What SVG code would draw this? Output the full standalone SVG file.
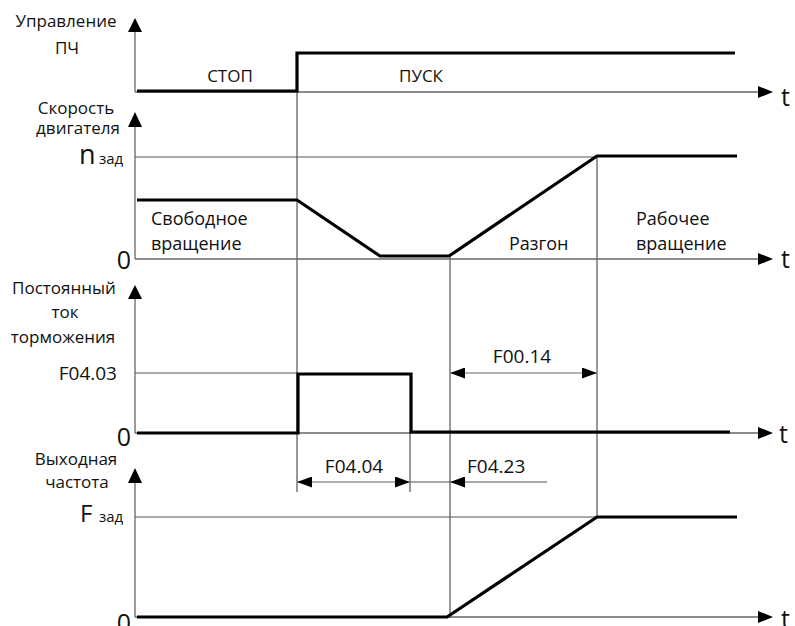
<svg xmlns="http://www.w3.org/2000/svg" width="795" height="626" viewBox="0 0 795 626">
<defs>
<style>
text{font-family:"Open Sans","Liberation Sans",sans-serif;fill:#111}
.lab{font-size:17px;text-anchor:middle}
.reg{font-size:18px}
.big{font-size:25px}
.dim{font-size:19px}
.ax{stroke:#666;stroke-width:1.3;fill:none}
.ref{stroke:#555;stroke-width:1.2;fill:none}
.dl{stroke:#999;stroke-width:1.5;fill:none}
.sig{stroke:#000;stroke-width:3.2;fill:none;stroke-linejoin:miter}
.ah{fill:#000}
</style>
<marker id="arrL" markerWidth="15" markerHeight="11" refX="0" refY="5.5" orient="auto" markerUnits="userSpaceOnUse"><path d="M0,5.5 L15,0 L15,11 Z" fill="#000"/></marker>
<marker id="arrR" markerWidth="15" markerHeight="11" refX="15" refY="5.5" orient="auto" markerUnits="userSpaceOnUse"><path d="M15,5.5 L0,0 L0,11 Z" fill="#000"/></marker>
</defs>
<rect width="795" height="626" fill="#fff"/>

<g id="connectors">
<line class="ref" x1="297" y1="53" x2="297" y2="492"/>
<line class="ref" x1="410" y1="432" x2="410" y2="492"/>
<line class="ref" x1="450" y1="256" x2="450" y2="618"/>
<line class="ref" x1="597" y1="156" x2="597" y2="517"/>
<line class="ref" x1="135" y1="157" x2="597" y2="157"/>
<line class="ref" x1="135" y1="373" x2="298" y2="373"/>
<line class="ref" x1="135" y1="517" x2="597" y2="517"/>
</g>

<g id="panel-control">
<line class="ax" x1="135" y1="30" x2="135" y2="92"/>
<path class="ah" d="M135,18 L142,32 L128,32 Z"/>
<line class="ax" x1="135" y1="92" x2="760" y2="92"/>
<path class="ah" d="M773,92 L758,86 L758,98 Z"/>
<text class="big" x="781" y="106">t</text>
<text class="lab" x="66" y="27">Управление</text>
<text class="lab" x="67" y="54">ПЧ</text>
<path class="sig" d="M137,91 H297 V53 H735"/>
<text class="lab" x="230" y="82">СТОП</text>
<text class="lab" x="421" y="82">ПУСК</text>
</g>

<g id="panel-speed">
<line class="ax" x1="135" y1="125" x2="135" y2="259"/>
<path class="ah" d="M135,112 L142,127 L128,127 Z"/>
<line class="ax" x1="135" y1="259" x2="760" y2="259"/>
<path class="ah" d="M773,259 L758,253 L758,265 Z"/>
<text class="big" x="781" y="268">t</text>
<text class="lab" x="76" y="114">Скорость</text>
<text class="lab" x="78" y="134">двигателя</text>
<text x="79" y="164" style="font-size:27px">n</text>
<text x="99" y="164" style="font-size:15px">зад</text>
<text class="big" x="131" y="269" text-anchor="end">0</text>
<path class="sig" d="M137,200 H297 L380,256 H449 L597,156 H737"/>
<text class="reg" x="151" y="225">Свободное</text>
<text class="reg" x="151" y="250">вращение</text>
<text class="reg" x="509" y="250">Разгон</text>
<text class="reg" x="636" y="225">Рабочее</text>
<text class="reg" x="636" y="250">вращение</text>
</g>

<g id="panel-dc-brake">
<line class="ax" x1="135" y1="297" x2="135" y2="433"/>
<path class="ah" d="M135,285 L142,299 L128,299 Z"/>
<line class="ax" x1="135" y1="433" x2="760" y2="433"/>
<path class="ah" d="M773,433 L758,427 L758,439 Z"/>
<text class="big" x="779" y="443">t</text>
<text class="lab" x="64" y="294">Постоянный</text>
<text class="lab" x="65" y="318">ток</text>
<text class="lab" x="63" y="343">торможения</text>
<text class="dim" x="117" y="380" text-anchor="end">F04.03</text>
<text class="big" x="131" y="446" text-anchor="end">0</text>
<path class="sig" d="M137,433 H298 V374 H411 V432 H730"/>
<line class="dl" x1="450" y1="373" x2="597" y2="373" marker-start="url(#arrL)" marker-end="url(#arrR)"/>
<text class="dim" x="522" y="363" text-anchor="middle">F00.14</text>
</g>

<g id="panel-output-freq">
<line class="ax" x1="135" y1="481" x2="135" y2="617"/>
<path class="ah" d="M135,468 L142,483 L128,483 Z"/>
<line class="ax" x1="135" y1="617" x2="760" y2="617"/>
<path class="ah" d="M773,617 L758,611 L758,623 Z"/>
<text class="big" x="781" y="628">t</text>
<text class="lab" x="76" y="465">Выходная</text>
<text class="lab" x="77" y="488">частота</text>
<text x="80" y="522" style="font-size:24px">F</text>
<text x="99" y="522" style="font-size:15px">зад</text>
<text class="big" x="131" y="632" text-anchor="end">0</text>
<path class="sig" d="M137,617 H447 L597,517 H737"/>
<line class="dl" x1="297" y1="482" x2="410" y2="482" marker-start="url(#arrL)" marker-end="url(#arrR)"/>
<text class="dim" x="354" y="473" text-anchor="middle">F04.04</text>
<line class="ref" x1="410" y1="482" x2="450" y2="482"/>
<line class="ref" x1="450" y1="482" x2="547" y2="482" marker-start="url(#arrL)"/>
<text class="dim" x="467" y="473">F04.23</text>
</g>
</svg>
